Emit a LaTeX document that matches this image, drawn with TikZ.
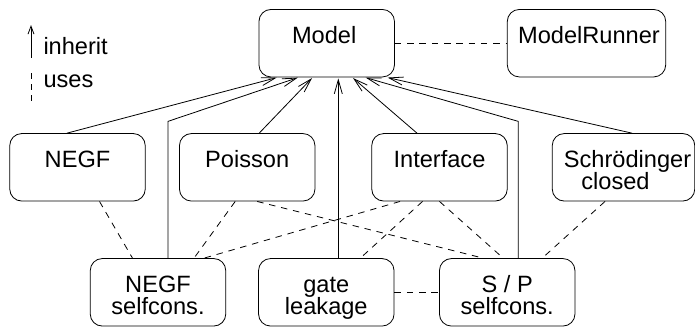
\documentclass[tikz,border=0pt]{standalone}
\usepackage{fontspec}
\setmainfont{Liberation Sans}
\usetikzlibrary{arrows.meta,calc}
\newcommand\myboxfont{\fontsize{23.6}{22}\selectfont\lineskiplimit=-30pt\relax}
\begin{document}
\begin{tikzpicture}[x=1pt,y=-1pt,
  box/.style={draw=black, line width=0.8pt, rounded corners=12pt, minimum width=135.5pt,
    inner xsep=0pt, inner ysep=0pt, text height=34pt, text depth=33.5pt, align=center,
    font=\myboxfont},
  boxtwo/.style={box, text height=56pt, text depth=11.5pt},
  lbl/.style={inner sep=0pt, font=\myboxfont},
  inh/.style={draw=black, line width=0.8pt, -{Straight Barb[length=14pt,width=8pt]}, shorten >=1pt},
  use/.style={draw=black, line width=0.8pt, dash pattern=on 6.5pt off 5.8pt},
]
\useasboundingbox (0,0) rectangle (695,327);
% boxes
\node[box] (model) at (326.7,43.2) {Model\hspace*{5pt}};
\node[box, minimum width=158.4pt] (runner) at (586.5,43.2) {\hspace*{5pt}ModelRunner};
\node[box] (negf) at (77.5,167.3) {NEGF};
\node[box] (poisson) at (247.2,167.3) {Poisson};
\node[box] (interface) at (439.5,167.3) {Interface};
\node[boxtwo, minimum width=142.5pt] (schr) at (623.5,167.3) {\hspace*{8pt}Schrödinger\\closed\hspace*{16pt}};
\node[boxtwo] (negfsc) at (158,292.3) {NEGF\\selfcons.};
\node[boxtwo] (gate) at (326.3,292.3) {gate\\leakage};
\node[boxtwo] (sp) at (507.2,292.3) {S / P\\selfcons.};
% inherit
\draw[inh] ($(negf.north)+(-10.5,0)$) -- ($(model.south)+(-49,0)$);
\draw[inh] ($(negfsc.north)+(10,0)$) -- ++(0,-136.8) -- ($(model.south)+(-28,0)$);
\draw[inh] ($(poisson.north)+(12,0)$) -- ($(model.south)+(-14,0)$);
\coordinate (g1) at ($(gate.north)+(12,0)$);
\draw[inh] (g1) -- (g1 |- model.south);
\draw[inh] ($(interface.north)+(-22.5,0)$) -- ($(model.south)+(25.5,0)$);
\draw[inh] ($(sp.north)+(11,0)$) -- ++(0,-136.8) -- ($(model.south)+(38,0)$);
\draw[inh] ($(schr.north)+(8.5,0)$) -- ($(model.south)+(60,0)$);
% uses
\draw[use] (model.east) -- (runner.west);
\draw[use] ($(negf.south)+(22,0)$) -- ($(negfsc.north)+(-25.5,0)$);
\draw[use] ($(poisson.south)+(-12,0)$) -- ($(negfsc.north)+(36,0)$);
\draw[use] ($(poisson.south)+(10,0)$) -- ($(sp.north)+(-24,0)$);
\draw[use] ($(interface.south)+(-39.5,0)$) -- ($(negfsc.north)+(46,0)$);
\draw[use] ($(interface.south)+(-17,0)$) -- ($(gate.north)+(34,0)$);
\draw[use] (interface.south) -- ($(sp.north)+(-4,0)$);
\draw[use] ($(schr.south)+(-18.5,0)$) -- ($(sp.north)+(35,0)$);
\draw[use] (gate.east) -- (sp.west);
% legend
\coordinate (la1) at (31,57.7);
\coordinate (la2) at (31,25);
\draw[line width=0.8pt, -{Straight Barb[length=8pt,width=6pt]}] (la1) -- (la2);
\node[lbl, anchor=base west] (linh) at (43.3,54.3) {inherit};
\coordinate (lu1) at (31,73);
\coordinate (lu2) at (31,101);
\draw[line width=0.8pt, dash pattern=on 6pt off 5pt] (lu1) -- (lu2);
\node[lbl, anchor=base west] (luse) at (43.3,87.7) {uses};
\end{tikzpicture}
\end{document}
